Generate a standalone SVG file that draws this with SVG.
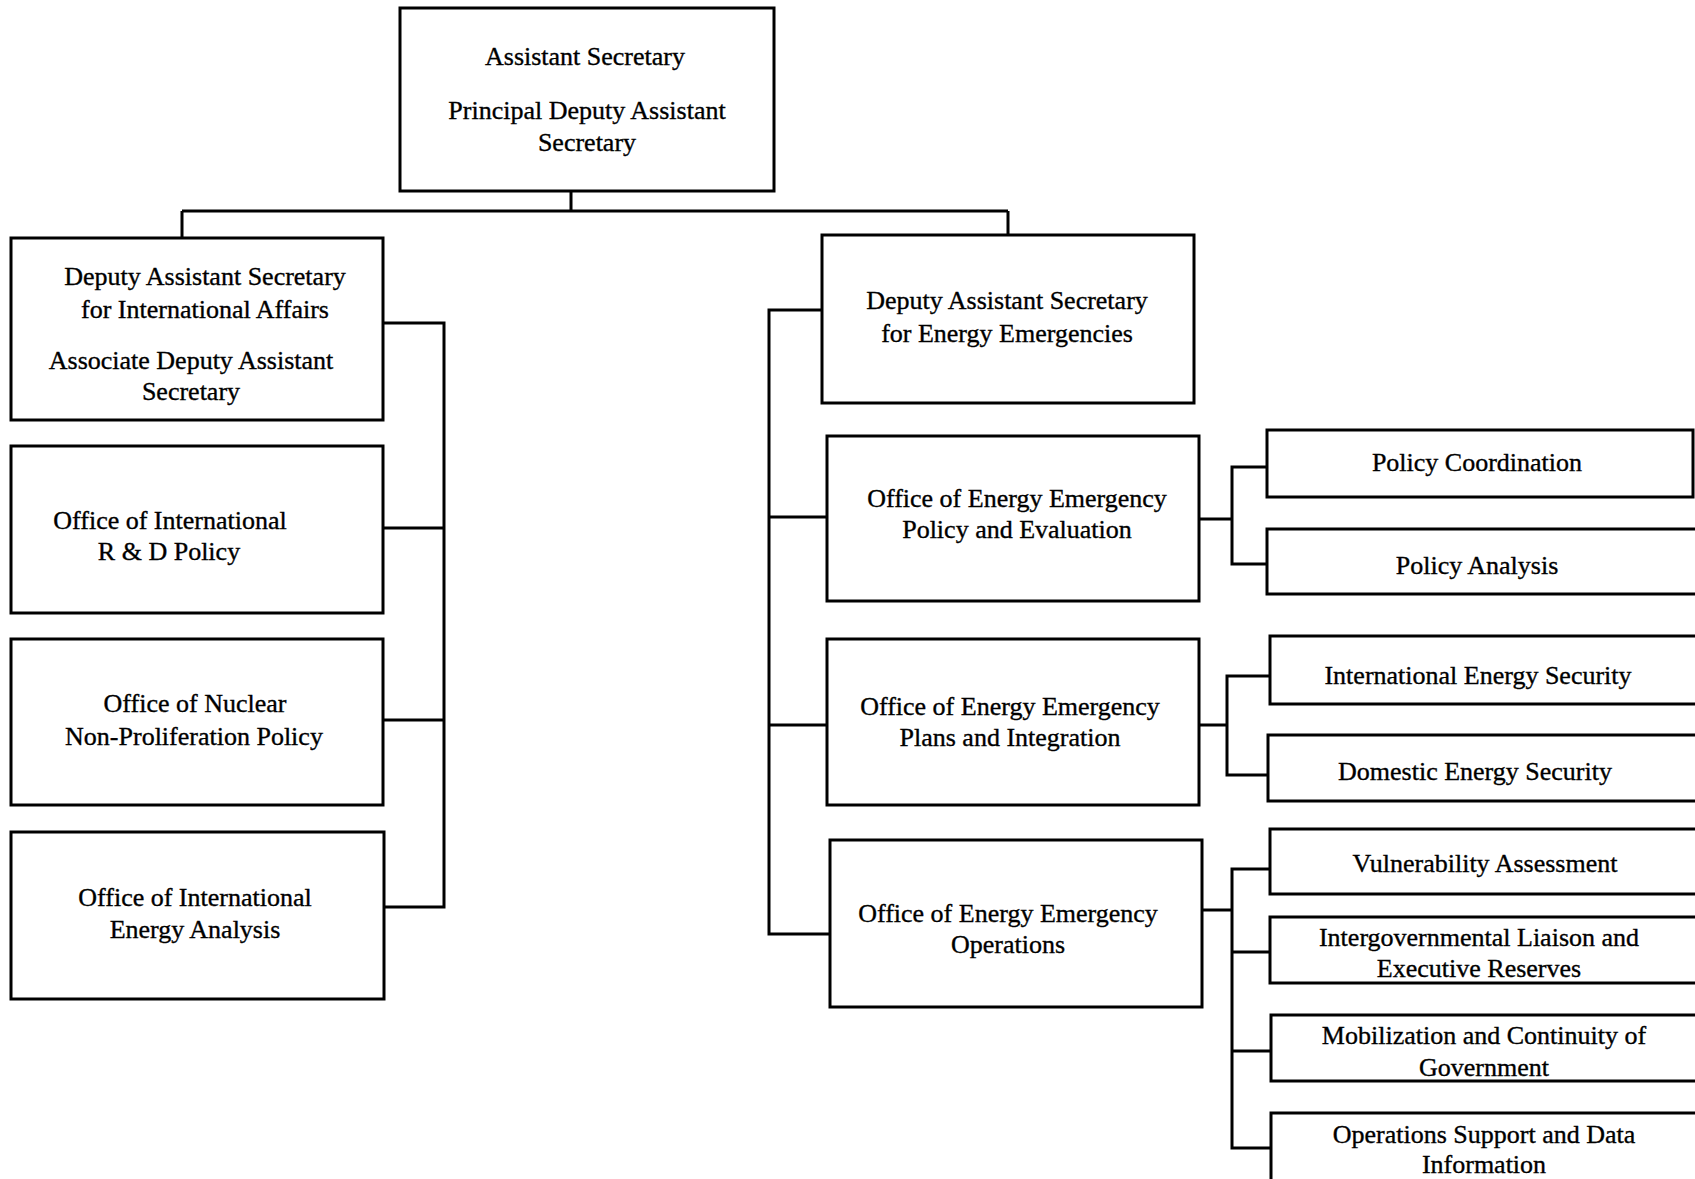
<svg xmlns="http://www.w3.org/2000/svg" width="1695" height="1179" viewBox="0 0 1695 1179">
<style>
.box{fill:#fff;stroke:#000;stroke-width:3}
.ln{fill:none;stroke:#000;stroke-width:3}
text{font-family:"Liberation Serif","Times New Roman",serif;font-size:26px;fill:#000;stroke:#000;stroke-width:0.35;text-anchor:middle}
</style>
<rect width="1695" height="1179" fill="#fff"/>
<g id="connectors">
<path class="ln" d="M571 191V211M182 211H1008M182 211V238M1008 211V235"/>
<path class="ln" d="M383 323H444V907H384M383 528H444M383 720H444"/>
<path class="ln" d="M822 310H769V934H830M769 517H827M769 725H827"/>
<path class="ln" d="M1199 519H1232M1267 467H1232V564H1267"/>
<path class="ln" d="M1199 725H1227M1270 676H1227V775H1268"/>
<path class="ln" d="M1202 910H1232M1270 869H1232V1148H1271M1232 952H1270M1232 1051H1271"/>
</g>
<g id="n-as"><rect class="box" x="400" y="8" width="374" height="183"/><text x="585" y="65">Assistant Secretary</text><text x="587" y="119">Principal Deputy Assistant</text><text x="587" y="151">Secretary</text></g>
<g id="n-dasia"><rect class="box" x="11" y="238" width="372" height="182"/><text x="205" y="285">Deputy Assistant Secretary</text><text x="205" y="318">for International Affairs</text><text x="191" y="369">Associate Deputy Assistant</text><text x="191" y="400">Secretary</text></g>
<g id="n-oirdp"><rect class="box" x="11" y="446" width="372" height="167"/><text x="170" y="529">Office of International</text><text x="169" y="560">R &amp; D Policy</text></g>
<g id="n-onnpp"><rect class="box" x="11" y="639" width="372" height="166"/><text x="195" y="712">Office of Nuclear</text><text x="194" y="745">Non-Proliferation Policy</text></g>
<g id="n-oiea"><rect class="box" x="11" y="832" width="373" height="167"/><text x="195" y="906">Office of International</text><text x="195" y="938">Energy Analysis</text></g>
<g id="n-dasee"><rect class="box" x="822" y="235" width="372" height="168"/><text x="1007" y="309">Deputy Assistant Secretary</text><text x="1007" y="342">for Energy Emergencies</text></g>
<g id="n-oeepe"><rect class="box" x="827" y="436" width="372" height="165"/><text x="1017" y="507">Office of Energy Emergency</text><text x="1017" y="538">Policy and Evaluation</text></g>
<g id="n-oeepi"><rect class="box" x="827" y="639" width="372" height="166"/><text x="1010" y="715">Office of Energy Emergency</text><text x="1010" y="746">Plans and Integration</text></g>
<g id="n-oeeo"><rect class="box" x="830" y="840" width="372" height="167"/><text x="1008" y="922">Office of Energy Emergency</text><text x="1008" y="953">Operations</text></g>
<g id="n-pc"><rect class="box" x="1267" y="430" width="426" height="67"/><text x="1477" y="471">Policy Coordination</text></g>
<g id="n-pa"><rect class="box" x="1267" y="529" width="440" height="65"/><text x="1477" y="574">Policy Analysis</text></g>
<g id="n-ies"><rect class="box" x="1270" y="636" width="440" height="68"/><text x="1478" y="684">International Energy Security</text></g>
<g id="n-des"><rect class="box" x="1268" y="735" width="440" height="66"/><text x="1475" y="780">Domestic Energy Security</text></g>
<g id="n-va"><rect class="box" x="1270" y="829" width="440" height="65"/><text x="1485" y="872">Vulnerability Assessment</text></g>
<g id="n-iler"><rect class="box" x="1270" y="917" width="440" height="66"/><text x="1479" y="946">Intergovernmental Liaison and</text><text x="1479" y="977">Executive Reserves</text></g>
<g id="n-mcg"><rect class="box" x="1271" y="1015" width="440" height="66"/><text x="1484" y="1044">Mobilization and Continuity of</text><text x="1484" y="1076">Government</text></g>
<g id="n-osdi"><rect class="box" x="1271" y="1113" width="440" height="80"/><text x="1484" y="1143">Operations Support and Data</text><text x="1484" y="1173">Information</text></g>
</svg>
